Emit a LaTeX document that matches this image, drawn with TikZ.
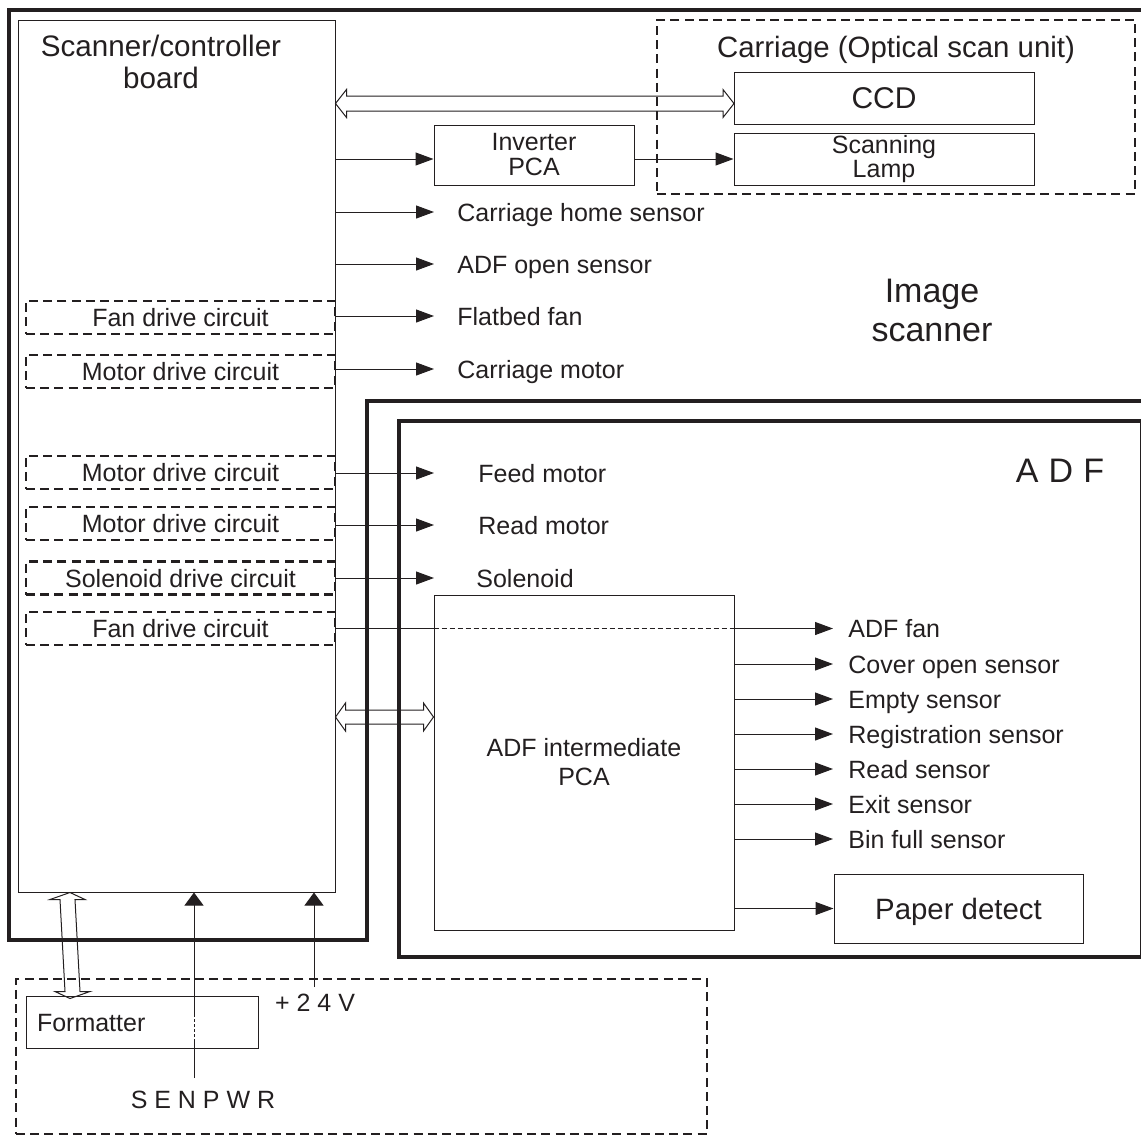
\documentclass[tikz,border=0pt]{standalone}
\usepackage{fontspec}
\setmainfont{Liberation Sans}
\usetikzlibrary{arrows.meta,calc}
\definecolor{ink}{HTML}{231F20}

\begin{document}
\begin{tikzpicture}[x=0.5pt, y=-0.5pt,
  every node/.style={text=ink},
  frame/.style={draw=ink, line width=1.6pt},
  thinline/.style={draw=ink, line width=0.5pt},
  box/.style={thinline, inner sep=0pt},
  unit/.style={draw=ink, line width=1.4pt, dash pattern=on 4.5pt off 2.6pt},
  circuit/.style={unit, minimum width=154.5pt, minimum height=16.5pt, inner sep=0pt,
    text height=9pt, text depth=0pt, font=\fontsize{12.5}{14}\selectfont},
  lbl/.style={anchor=west, inner sep=0pt, text height=9pt, text depth=0pt,
    font=\fontsize{12.5}{14}\selectfont},
  sig/.style={thinline, -{Triangle[length=9pt,width=6.5pt]}},
  pwr/.style={thinline, -{Triangle[length=6.5pt,width=9.5pt]}},
  bus/.style={thinline, line join=miter}
]
\useasboundingbox (0,0) rectangle (1141,1137);

% Image scanner and ADF frames
\draw[frame] (1141,10) -- (9,10) -- (9,940) -- (367,940) -- (367,401) -- (1141,401);
\draw[frame] (1141,421) -- (399,421) -- (399,957) -- (1141,957);
\draw[thinline] (1140,421) -- (1140,957);
\node[align=center, font=\fontsize{17}{19.5}\selectfont] (scanlbl) at (932,310) {Image\\scanner};
\node[inner sep=0pt, text height=12.2pt, text depth=0pt, font=\fontsize{17}{19}\selectfont] (adflbl) at (1060,470) {A\hspace{0.3em}D\hspace{0.3em}F};

% Scanner/controller board
\node[box, minimum width=158.5pt, minimum height=436pt] (board) at (176.5,456) {};
\node[align=center, font=\fontsize{14.8}{16.3}\selectfont] (boardlbl) at (161,62) {Scanner/controller\\board};

\node[circuit] (fan1) at (180.5,317.5) {Fan drive circuit};
\node[circuit] (mot1) at (180.5,371.5) {Motor drive circuit};
\node[circuit] (mot2) at (180.5,472.5) {Motor drive circuit};
\node[circuit] (mot3) at (180.5,523.5) {Motor drive circuit};
\node[circuit] (sol) at (180.5,578) {Solenoid drive circuit};
\node[circuit] (fan2) at (180.5,628.5) {Fan drive circuit};

% Carriage
\draw[bus] let \p1=(board.east), \p2=(734,103.5) in
  (\x1,\y2) -- (\x1+5.5pt,\y2+7pt) -- (\x1+5.5pt,\y2+3.75pt) -- (\x2-5.5pt,\y2+3.75pt)
  -- (\x2-5.5pt,\y2+7pt) -- (\x2,\y2) -- (\x2-5.5pt,\y2-7pt) -- (\x2-5.5pt,\y2-3.75pt)
  -- (\x1+5.5pt,\y2-3.75pt) -- (\x1+5.5pt,\y2-7pt) -- cycle;
\node[unit, minimum width=239pt, minimum height=87pt] (carriage) at (896,107) {};
\node[inner sep=0pt, text height=10.5pt, text depth=0pt, font=\fontsize{14.7}{16}\selectfont] (carrlbl) at (896,47) {Carriage (Optical scan unit)};
\node[box, minimum width=150pt, minimum height=26pt, text height=10.7pt, text depth=0pt,
  font=\fontsize{15}{17}\selectfont] (ccd) at (884,98) {CCD};
\node[box, minimum width=150pt, minimum height=26pt, align=center,
  font=\fontsize{12.5}{11}\selectfont] (lamp) at (884,159) {Scanning\\Lamp};
\node[box, minimum width=100pt, minimum height=30pt, align=center,
  font=\fontsize{12.5}{12.5}\selectfont] (inv) at (534,155) {Inverter\\PCA};

\draw[sig] (board.east |- lamp.west) -- (inv.west |- lamp.west);
\draw[sig] (inv.east |- lamp.west) -- (lamp.west);

% Scanner signals
\node[lbl] (chs) at (457,212) {Carriage home sensor};
\node[lbl] (aos) at (457,264) {ADF open sensor};
\node[lbl] (ffan) at (457,316) {Flatbed fan};
\node[lbl] (cmot) at (457,369) {Carriage motor};
\draw[sig, shorten >=11.5pt] (board.east |- chs.west) -- (chs.west);
\draw[sig, shorten >=11.5pt] (board.east |- aos.west) -- (aos.west);
\draw[sig, shorten >=11.5pt] (fan1.east |- ffan.west) -- (ffan.west);
\draw[sig, shorten >=11.5pt] (mot1.east |- cmot.west) -- (cmot.west);

% ADF signals
\node[lbl] (fmot) at (478,473) {Feed motor};
\node[lbl] (rmot) at (478,525) {Read motor};
\node[lbl] (solen) at (476,578) {Solenoid};
\draw[sig, shorten >=22pt] (mot2.east |- fmot.west) -- (fmot.west);
\draw[sig, shorten >=22pt] (mot3.east |- rmot.west) -- (rmot.west);
\draw[sig, shorten >=21pt] (sol.east |- solen.west) -- (solen.west);

% ADF intermediate PCA
\node[box, minimum width=150pt, minimum height=167.5pt, align=center,
  font=\fontsize{12.5}{14.5}\selectfont] (pca) at (584,762.5) {ADF intermediate\\PCA};
\draw[bus] let \p1=(board.east), \p2=(pca.west) in
  (\x1,-358.5pt) -- ++(5pt,7pt) -- ++(0,-3.5pt) -- (\x2-5pt,-355pt)
  -- ++(0,3.5pt) -- (\x2,-358.5pt) -- ++(-5pt,-7pt) -- ++(0,3.5pt) -- (\x1+5pt,-362pt)
  -- ++(0,-3.5pt) -- cycle;

\node[lbl] (adffan) at (848,628.5) {ADF fan};
\node[lbl] (cover) at (848,664) {Cover open sensor};
\node[lbl] (empty) at (848,699) {Empty sensor};
\node[lbl] (regis) at (848,734) {Registration sensor};
\node[lbl] (readsn) at (848,769) {Read sensor};
\node[lbl] (exitsn) at (848,804) {Exit sensor};
\node[lbl] (binsn) at (848,839) {Bin full sensor};
\node[box, minimum width=124.5pt, minimum height=34.5pt, text height=10.5pt, text depth=0pt,
  font=\fontsize{14.7}{16}\selectfont] (paper) at (958.5,908.5) {Paper detect};

\draw[thinline] (fan2.east) -- (fan2.east -| pca.west);
\draw[draw=ink, line width=0.7pt, dash pattern=on 2.5pt off 1.5pt] (fan2.east -| pca.west) -- (fan2.east -| pca.east);
\draw[sig, shorten >=7.5pt] (fan2.east -| pca.east) -- (adffan.west);
\draw[sig, shorten >=7.5pt] (pca.east |- cover.west) -- (cover.west);
\draw[sig, shorten >=7.5pt] (pca.east |- empty.west) -- (empty.west);
\draw[sig, shorten >=7.5pt] (pca.east |- regis.west) -- (regis.west);
\draw[sig, shorten >=7.5pt] (pca.east |- readsn.west) -- (readsn.west);
\draw[sig, shorten >=7.5pt] (pca.east |- exitsn.west) -- (exitsn.west);
\draw[sig, shorten >=7.5pt] (pca.east |- binsn.west) -- (binsn.west);
\draw[sig] (pca.east |- paper.west) -- (paper.west);

% Formatter
\node[unit, minimum width=345.5pt, minimum height=77.5pt] (fmtgrp) at (361.5,1056.5) {};
\node[box, minimum width=116pt, minimum height=26pt, text width=105pt, inner xsep=5.5pt,
  align=left, text height=9pt, text depth=0pt, font=\fontsize{12.5}{14}\selectfont] (fmt) at (142,1022) {Formatter};
\draw[bus] let \p1=(board.south), \p2=(fmt.north) in
  (70*0.5pt,\y1) -- ++(-10pt,-3.5pt) -- ++(5pt,0) -- (65*0.5pt,\y2+2pt) -- ++(-5pt,0)
  -- (70*0.5pt,\y2+2pt-3.5pt) -- ++(10pt,3.5pt) -- ++(-5pt,0) -- (75*0.5pt,\y1-3.5pt)
  -- ++(5pt,0) -- cycle;

\node[inner sep=0pt, text height=9pt, text depth=0pt, font=\fontsize{12.5}{14}\selectfont] (senpwr) at (203,1099) {S E N P W R};
\node[inner sep=0pt, text height=9pt, text depth=0pt, font=\fontsize{12.5}{14}\selectfont] (v24) at (315,1002) {+ 2 4 V};
\coordinate (senin) at (194,1078);
\coordinate (v24in) at (314,987);
\draw[thinline] (senin) -- (194,1042);
\draw[draw=ink, line width=0.4pt, dash pattern=on 1.5pt off 1pt] (194,1042) -- (194,1015);
\draw[pwr] (194,1015) -- (senin |- board.south);
\draw[pwr] (v24in) -- (v24in |- board.south);
\end{tikzpicture}
\end{document}
